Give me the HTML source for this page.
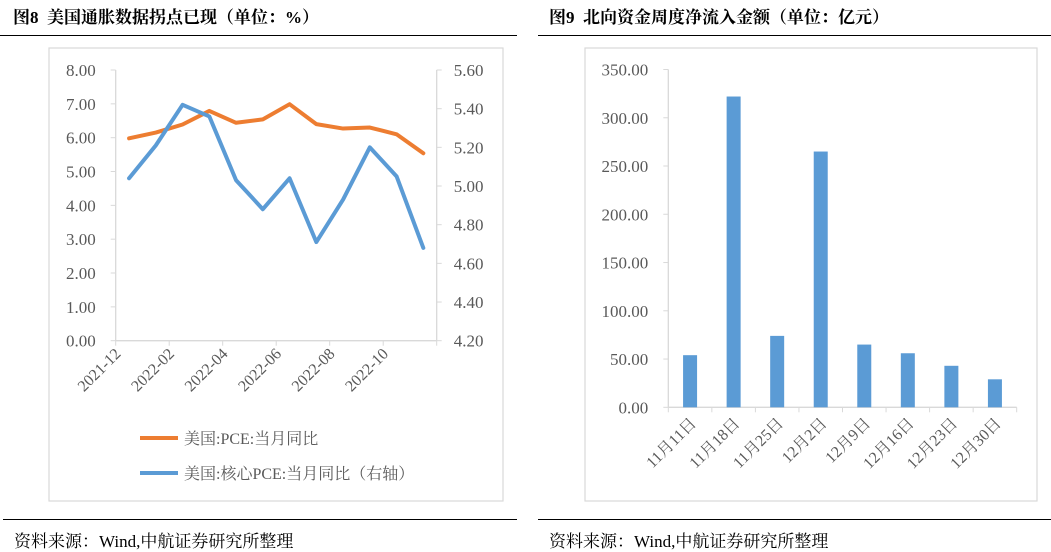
<!DOCTYPE html>
<html><head><meta charset="utf-8"><style>
body{margin:0;background:#fff;width:1051px;height:549px;overflow:hidden;font-family:"Liberation Serif","Noto Serif CJK SC",serif;}
.t{position:absolute;font-size:17px;font-weight:bold;color:#000;font-family:"Liberation Serif","Noto Serif CJK SC",serif;}
.f{position:absolute;font-size:17px;color:#000;}
.ln{position:absolute;height:1px;background:#000;}
svg text{font-family:"Liberation Serif","Noto Serif CJK SC",serif;}
</style></head><body>
<div class="t" style="left:13px;top:3px">图8&nbsp; 美国通胀数据拐点已现（单位：%）</div>
<div class="t" style="left:549px;top:3px">图9&nbsp; 北向资金周度净流入金额（单位：亿元）</div>
<div class="ln" style="left:0;top:35px;width:517px"></div>
<div class="ln" style="left:538px;top:35px;width:513px"></div>
<div class="ln" style="left:3px;top:519px;width:514px"></div>
<div class="ln" style="left:538px;top:519px;width:513px"></div>
<div class="f" style="left:14px;top:527px">资料来源：Wind,中航证券研究所整理</div>
<div class="f" style="left:549px;top:527px">资料来源：Wind,中航证券研究所整理</div>
<svg id="s" width="1051" height="549" style="position:absolute;left:0;top:0">
<rect x="49" y="48" width="454" height="453" fill="none" stroke="#d9d9d9" stroke-width="1.2"/>
<rect x="585" y="48" width="452" height="453" fill="none" stroke="#d9d9d9" stroke-width="1.2"/>
</svg>
<script>
const months=["2021-12","2022-01","2022-02","2022-03","2022-04","2022-05","2022-06","2022-07","2022-08","2022-09","2022-10","2022-11"];
const pce=[5.98,6.15,6.39,6.79,6.44,6.54,6.99,6.40,6.27,6.30,6.10,5.54];
const corePce=[5.04,5.21,5.42,5.36,5.03,4.88,5.04,4.71,4.93,5.20,5.05,4.68];
const leftTicks=["0.00","1.00","2.00","3.00","4.00","5.00","6.00","7.00","8.00"];
const rightTicks=["4.20","4.40","4.60","4.80","5.00","5.20","5.40","5.60"];
const weeks=["11月11日","11月18日","11月25日","12月2日","12月9日","12月16日","12月23日","12月30日"];
const flows=[54,322,74,265,65,56,43,29];
const barTicks=["0.00","50.00","100.00","150.00","200.00","250.00","300.00","350.00"];
const s=document.getElementById('s');
function el(t,a,txt){const e=document.createElementNS('http://www.w3.org/2000/svg',t);for(const k in a)e.setAttribute(k,a[k]);if(txt!==undefined)e.textContent=txt;s.appendChild(e);return e;}
const L=115.7,R=436.7,T=70,B=340.7;
const xL=i=>L+(i+0.5)*(R-L)/months.length;
const yL=v=>B-(v-0)/(8-0)*(B-T);
const yR=v=>B-(v-4.2)/(5.6-4.2)*(B-T);
let e;
e=el('line',{x1:L,y1:T,x2:L,y2:B,stroke:'#d9d9d9','stroke-width':1.3});

e=el('line',{x1:R,y1:T,x2:R,y2:B,stroke:'#d9d9d9','stroke-width':1.3});

e=el('line',{x1:L,y1:B,x2:R,y2:B,stroke:'#d9d9d9','stroke-width':1.3});

leftTicks.forEach(t=>{const y=yL(+t);
e=el('line',{x1:L-5,y1:y,x2:L,y2:y,stroke:'#d9d9d9'});

e=el('text',{x:L-20,y:y+6,'text-anchor':'end','font-size':17,fill:'#595959'},t);
});
rightTicks.forEach(t=>{const y=yR(+t);
e=el('line',{x1:R,y1:y,x2:R+5,y2:y,stroke:'#d9d9d9'});

e=el('text',{x:R+17,y:y+6,'text-anchor':'start','font-size':17,fill:'#595959'},t);
});
const cw=(R-L)/months.length;
for(let i=0;i<=months.length;i+=2){const x=L+i*cw;
e=el('line',{x1:x,y1:B,x2:x,y2:B+5,stroke:'#d9d9d9'});

if(i<months.length){e=el('text',{x:x+6,y:B+14,'text-anchor':'end','font-size':16,fill:'#595959',transform:`rotate(-45 ${x+6} ${B+14})`},months[i]);
}}
e=el('polyline',{points:pce.map((v,i)=>xL(i)+','+yL(v)).join(' '),fill:'none',stroke:'#ed7d31','stroke-width':4,'stroke-linejoin':'round','stroke-linecap':'round'});

e=el('polyline',{points:corePce.map((v,i)=>xL(i)+','+yR(v)).join(' '),fill:'none',stroke:'#5b9bd5','stroke-width':4,'stroke-linejoin':'round','stroke-linecap':'round'});

e=el('line',{x1:140,y1:438,x2:178,y2:438,stroke:'#ed7d31','stroke-width':4});

e=el('text',{x:184,y:444,'font-size':16,fill:'#595959'},'美国:PCE:当月同比');

e=el('line',{x1:140,y1:473,x2:178,y2:473,stroke:'#5b9bd5','stroke-width':4});

e=el('text',{x:184,y:479,'font-size':16,fill:'#595959'},'美国:核心PCE:当月同比（右轴）');

const L2=668.3,R2=1016.7,T2=69.5,B2=407.3;
const cw2=(R2-L2)/weeks.length;
const y2=v=>B2-v/350*(B2-T2);
e=el('line',{x1:L2,y1:T2,x2:L2,y2:B2,stroke:'#d9d9d9','stroke-width':1.3});

e=el('line',{x1:L2,y1:B2,x2:R2,y2:B2,stroke:'#d9d9d9','stroke-width':1.3});

barTicks.forEach(t=>{const y=y2(+t);
e=el('line',{x1:L2-5,y1:y,x2:L2,y2:y,stroke:'#d9d9d9'});

e=el('text',{x:L2-20,y:y+6,'text-anchor':'end','font-size':17,fill:'#595959'},t);
});
for(let i=0;i<=weeks.length;i++){const x=L2+i*cw2;
e=el('line',{x1:x,y1:B2,x2:x,y2:B2+5,stroke:'#d9d9d9'});
}
weeks.forEach((w,i)=>{const cx=L2+(i+0.5)*cw2;
e=el('rect',{x:cx-7,y:y2(flows[i]),width:14,height:B2-y2(flows[i]),fill:'#5b9bd5'});

e=el('text',{x:cx+7,y:B2+17,'text-anchor':'end','font-size':16,fill:'#595959',transform:`rotate(-45 ${cx+7} ${B2+17})`},w);
});
</script>
</body></html>
